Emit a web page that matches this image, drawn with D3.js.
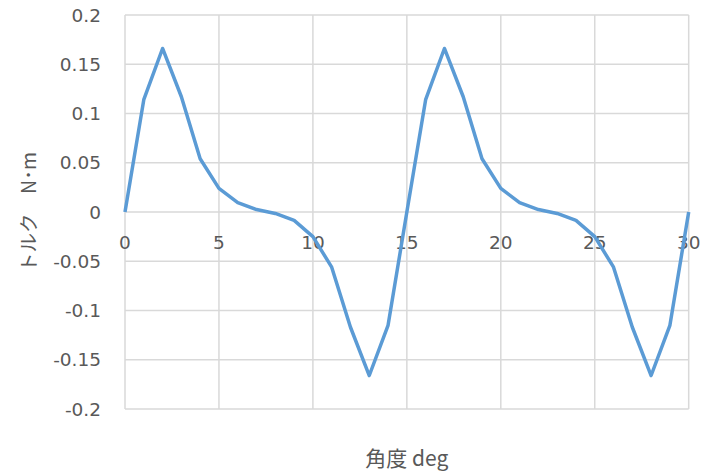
<!DOCTYPE html>
<html>
<head>
<meta charset="utf-8">
<script src="https://cdn.jsdelivr.net/npm/d3@7"></script>
<style>
  body { margin: 0; background: #fff; }
  svg text { fill: #595959; }
</style>
</head>
<body>
<svg id="chart" width="706" height="474"></svg>
<script>
// angle in degrees
const angles = d3.range(0, 31);
// torque N·m
const torque = [
  0, 0.114, 0.166, 0.117, 0.054, 0.024, 0.0095, 0.0025, -0.0015, -0.0085,
  -0.025, -0.056, -0.117, -0.166, -0.115, 0,
  0.114, 0.166, 0.117, 0.054, 0.024, 0.0095, 0.0025, -0.0015, -0.0085,
  -0.025, -0.056, -0.117, -0.166, -0.115, 0
];
const xTicks = [0, 5, 10, 15, 20, 25, 30];
const yTicks = [-0.2, -0.15, -0.1, -0.05, 0, 0.05, 0.1, 0.15, 0.2];
const xTitle = "角度 deg";
const yTitle = "トルク　N･m";

const margin = {left: 125, right: 17.3, top: 15, bottom: 65};
const width = 706 - margin.left - margin.right;
const height = 474 - margin.top - margin.bottom;

const svg = d3.select("#chart")
  .append("g")
  .attr("transform", `translate(${margin.left},${margin.top})`);

const data = angles.map((a, i) => ({angle: a, value: torque[i]}));

const x = d3.scaleLinear().domain([0, 30]).range([0, width]);
const y = d3.scaleLinear().domain([-0.2, 0.2]).range([height, 0]);

const tickFont = "'DejaVu Sans', sans-serif";

// horizontal grid + y labels
svg.append("g")
  .selectAll("line")
  .data(yTicks)
  .enter()
  .append("line")
  .attr("x1", 0)
  .attr("x2", width)
  .attr("y1", d => y(d))
  .attr("y2", d => y(d))
  .attr("stroke", "#d9d9d9")
  .attr("stroke-width", 1.5);

svg.append("g")
  .selectAll("text")
  .data(yTicks)
  .enter()
  .append("text")
  .attr("x", -24)
  .attr("y", d => y(d))
  .attr("dy", "0.36em")
  .attr("text-anchor", "end")
  .style("font-family", tickFont)
  .style("font-size", "18.5px")
  .text(d => String(d));   // plain hyphen minus like the original

// vertical grid + x labels
svg.append("g")
  .selectAll("line")
  .data(xTicks)
  .enter()
  .append("line")
  .attr("x1", d => x(d))
  .attr("x2", d => x(d))
  .attr("y1", 0)
  .attr("y2", height)
  .attr("stroke", "#d9d9d9")
  .attr("stroke-width", 1.5);

svg.append("g")
  .selectAll("text")
  .data(xTicks)
  .enter()
  .append("text")
  .attr("x", d => x(d))
  .attr("y", y(0) + 30)
  .attr("dy", "0.36em")
  .attr("text-anchor", "middle")
  .style("font-family", tickFont)
  .style("font-size", "18.5px")
  .text(d => d);

// the torque line
const line = d3.line()
  .x(d => x(d.angle))
  .y(d => y(d.value));

svg.append("path")
  .datum(data)
  .attr("fill", "none")
  .attr("stroke", "#5b9bd5")
  .attr("stroke-width", 3.5)
  .attr("stroke-linejoin", "round")
  .attr("d", line);

// axis titles
svg.append("text")
  .attr("x", width / 2)
  .attr("y", height + 49)
  .attr("dy", "0.36em")
  .attr("text-anchor", "middle")
  .style("font-family", "'Noto Sans CJK JP', sans-serif")
  .style("font-size", "21px")
  .text(xTitle);

svg.append("text")
  .attr("transform", `translate(${29 - margin.left},${height / 2}) rotate(-90)`)
  .attr("dy", "0.36em")
  .attr("text-anchor", "middle")
  .style("font-family", "'Noto Sans CJK JP', sans-serif")
  .style("font-size", "19.5px")
  .text(yTitle);
</script>
</body>
</html>
